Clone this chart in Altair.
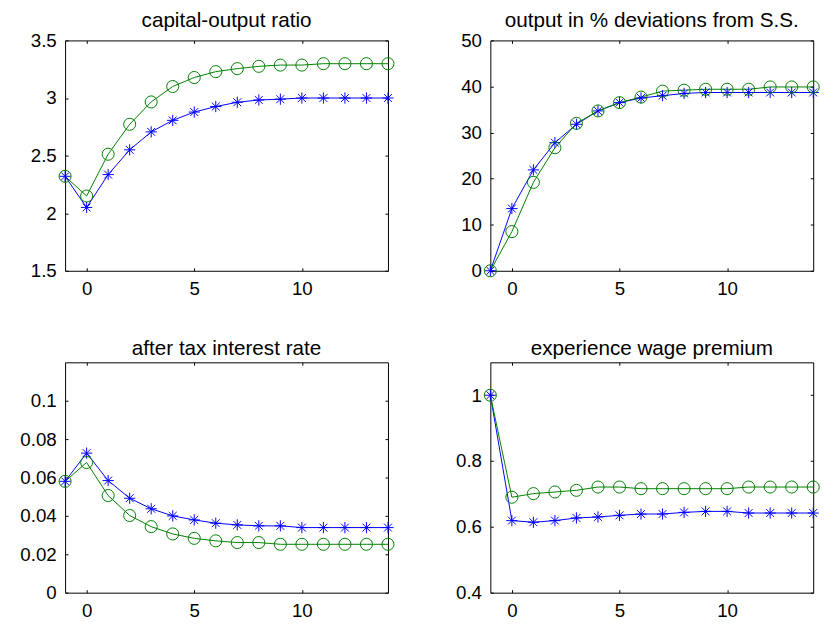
import altair as alt
import pandas as pd

# ---------------- data ----------------
x_vals = list(range(-1, 15))

cap_blue = [2.32, 2.05, 2.335, 2.55, 2.706, 2.806, 2.878, 2.926, 2.963, 2.983, 2.99, 3.0, 3.0, 3.0, 3.0, 3.0]
cap_green = [2.32, 2.149, 2.512, 2.772, 2.966, 3.10, 3.178, 3.229, 3.255, 3.275, 3.286, 3.286, 3.298, 3.298, 3.298, 3.298]

out_blue = [0, 13.5, 21.9, 27.8, 31.8, 34.7, 36.5, 37.5, 38.0, 38.5, 38.7, 38.7, 38.7, 38.7, 38.7, 38.7]
out_green = [0, 8.5, 19.2, 26.7, 32.0, 34.7, 36.5, 37.7, 39.0, 39.2, 39.4, 39.4, 39.4, 39.9, 39.9, 39.9]

rate_blue = [0.058, 0.0727, 0.0584, 0.0492, 0.0437, 0.040, 0.0379, 0.0362, 0.0353, 0.0348, 0.0348, 0.0339, 0.0339, 0.0339, 0.0339, 0.0339]
rate_green = [0.058, 0.0678, 0.0506, 0.0402, 0.0344, 0.0306, 0.0283, 0.027, 0.0261, 0.0261, 0.0252, 0.0252, 0.0252, 0.0252, 0.0252, 0.0252]

prem_blue = [1.0, 0.619, 0.614, 0.619, 0.627, 0.630, 0.635, 0.639, 0.639, 0.644, 0.647, 0.647, 0.642, 0.642, 0.642, 0.642]
prem_green = [1.0, 0.69, 0.701, 0.706, 0.711, 0.721, 0.721, 0.716, 0.716, 0.716, 0.716, 0.716, 0.721, 0.721, 0.721, 0.721]

titles = ["capital-output ratio", "output in % deviations from S.S.",
          "after tax interest rate", "experience wage premium"]
x_ticks = [0, 5, 10]
y_domains = [[1.5, 3.5], [0, 50], [0, 0.12], [0.4, 1.1]]
y_ticks = [[1.5, 2, 2.5, 3, 3.5], [0, 10, 20, 30, 40, 50],
           [0, 0.02, 0.04, 0.06, 0.08, 0.1], [0.4, 0.6, 0.8, 1]]
title_offsets = [-16, -16, -14, -14]

BLUE = "#0000ff"
GREEN = "#008000"
STAR = "M-1,0L1,0M0,-1L0,1M-0.7,-0.7L0.7,0.7M-0.7,0.7L0.7,-0.7"
FONT = "Liberation Sans"
W, H = 328, 234


def panel(title, blue, green, ydom, yticks, toff):
    n = len(x_vals)
    df = pd.DataFrame({"x": x_vals * 2, "v": blue + green,
                       "s": ["blue"] * n + ["green"] * n})
    xs = alt.Scale(domain=[-1, 14], nice=False, zero=False)
    ys = alt.Scale(domain=ydom, nice=False, zero=False)
    common = dict(offset=-3, tickSize=3, domain=False, grid=False, title=None,
                  tickColor="black", tickWidth=1, minExtent=0)
    ax_b = alt.Axis(orient="bottom", values=x_ticks, format="~r", labelPadding=9, **common)
    ax_t = alt.Axis(orient="top", values=x_ticks, labels=False, maxExtent=0, **common)
    ax_l = alt.Axis(orient="left", values=yticks, format="~r", labelPadding=9, **common)
    ax_r = alt.Axis(orient="right", values=yticks, labels=False, maxExtent=0, **common)

    base = alt.Chart(df)
    lines = base.mark_line(strokeWidth=1).encode(
        x=alt.X("x:Q", scale=xs, axis=ax_b),
        y=alt.Y("v:Q", scale=ys, axis=ax_l),
        color=alt.Color("s:N", scale=alt.Scale(domain=["blue", "green"], range=[BLUE, GREEN]), legend=None),
    )
    stars = base.transform_filter(alt.datum.s == "blue").mark_point(
        shape=STAR, size=130, filled=False, color=BLUE, strokeWidth=1, opacity=1
    ).encode(
        x=alt.X("x:Q", scale=xs, axis=ax_t),
        y=alt.Y("v:Q", scale=ys, axis=ax_r),
    )
    circles = base.transform_filter(alt.datum.s == "green").mark_point(
        shape="circle", size=150, filled=False, color=GREEN, strokeWidth=1, opacity=1
    ).encode(
        x=alt.X("x:Q", scale=xs, axis=None),
        y=alt.Y("v:Q", scale=ys, axis=None),
    )
    return alt.layer(lines, stars, circles).resolve_axis(x="independent", y="independent").properties(
        width=W, height=H,
        title=alt.TitleParams(text=title, fontSize=21, font=FONT, fontWeight="normal",
                              baseline="alphabetic", offset=toff, frame="group",
                              anchor="middle", color="black"),
    )


series = [(cap_blue, cap_green), (out_blue, out_green), (rate_blue, rate_green), (prem_blue, prem_green)]
panels = [panel(titles[i], series[i][0], series[i][1], y_domains[i], y_ticks[i], title_offsets[i])
          for i in range(4)]

chart = alt.concat(
    *panels, columns=2, spacing={"row": 93, "column": 104}, bounds="flush",
).properties(
    padding={"left": 11, "top": -4, "right": 5, "bottom": 5},
    background="white",
).configure_view(
    stroke="black", strokeWidth=1
).configure_axis(
    labelFont=FONT, labelFontSize=19, labelColor="black"
)

chart.save("out.html", embed_options={"renderer": "svg", "actions": False})
